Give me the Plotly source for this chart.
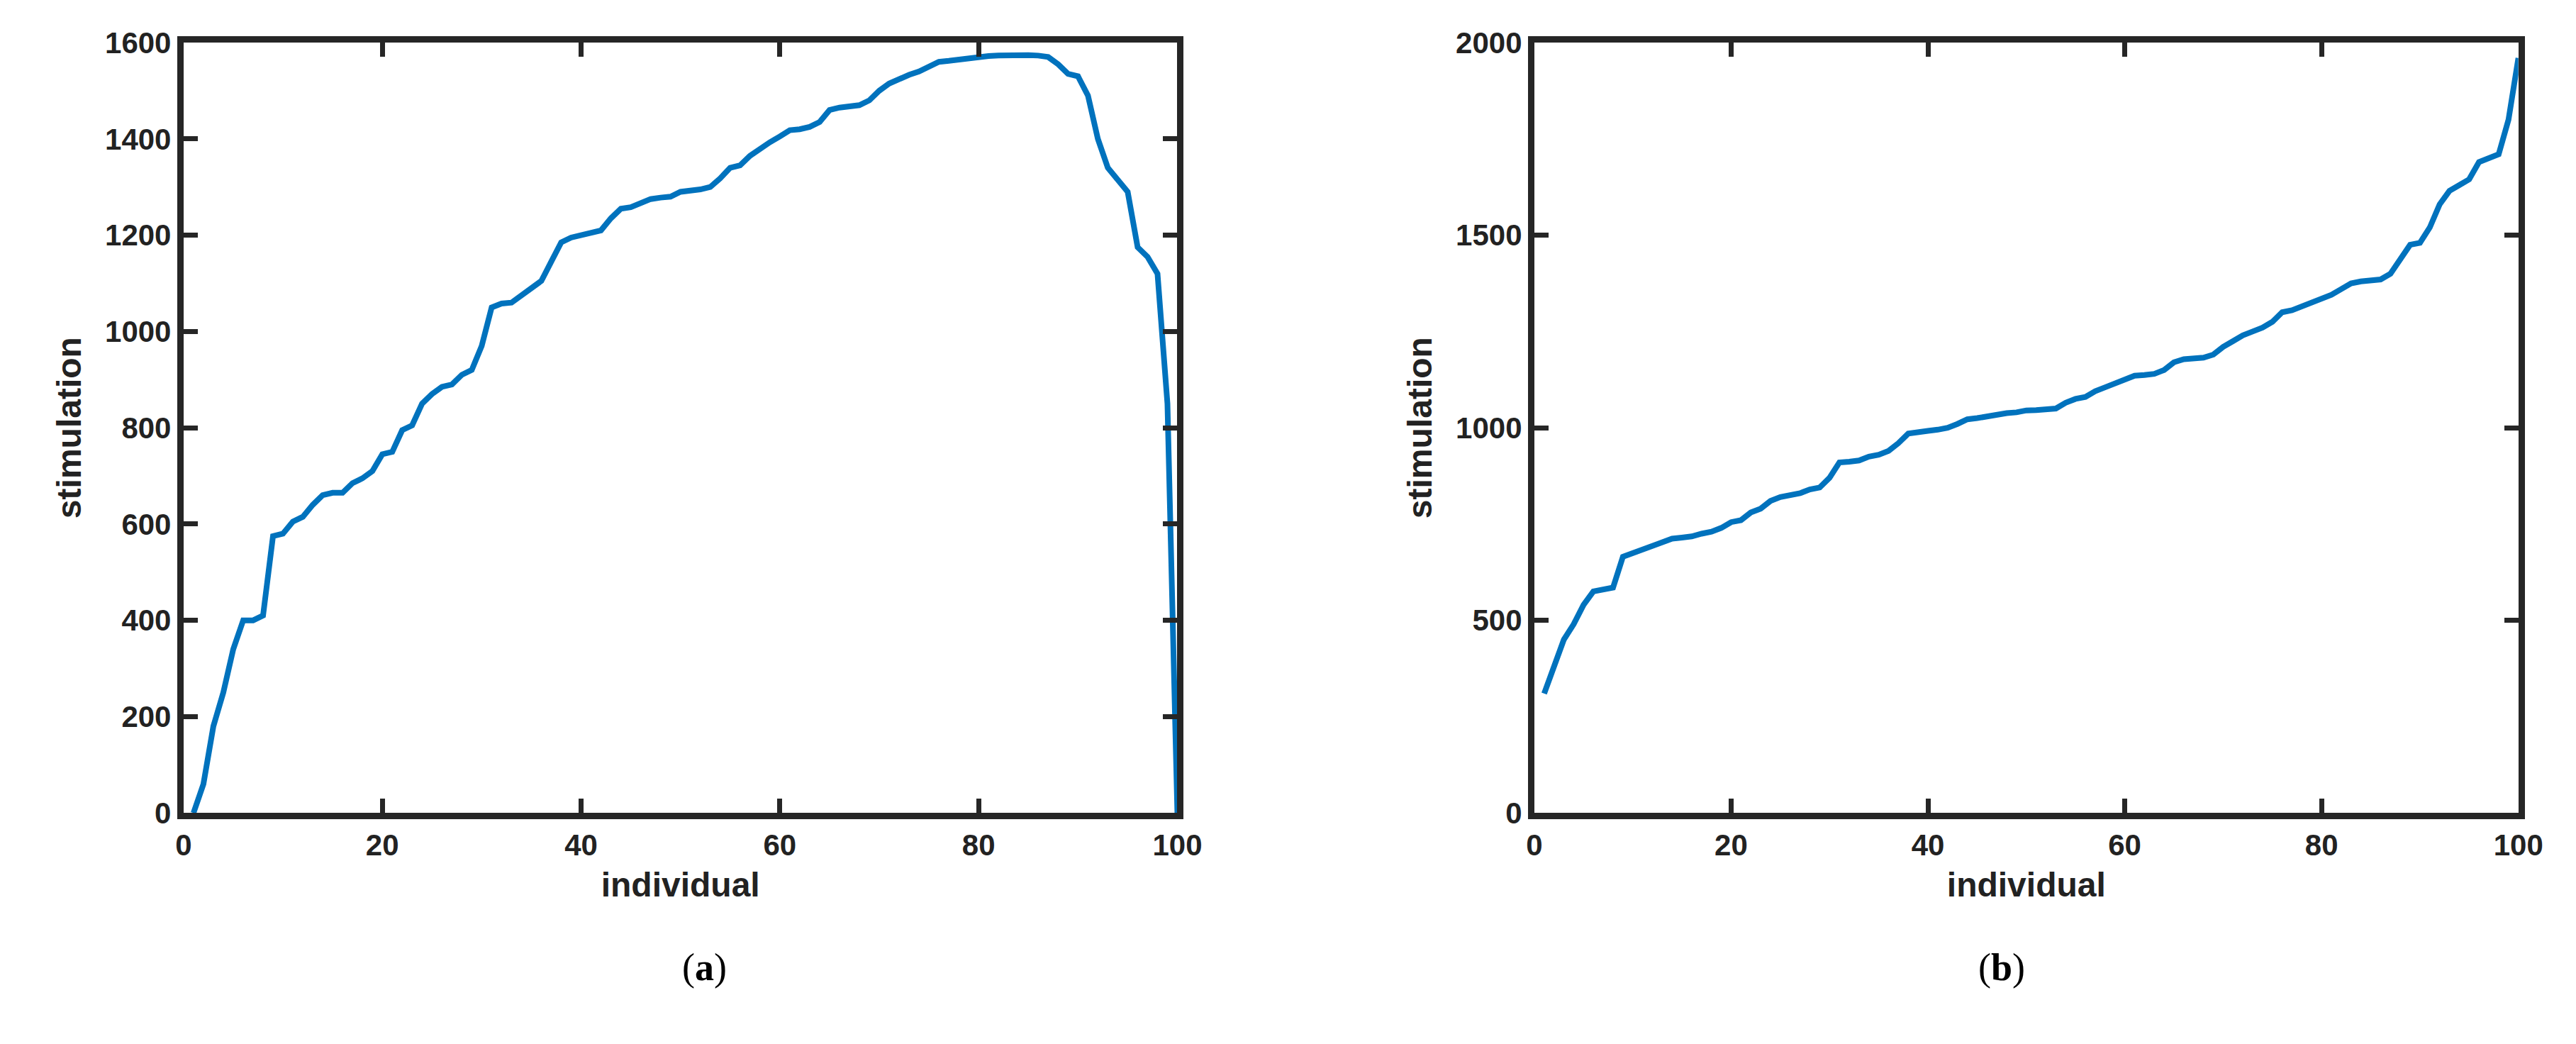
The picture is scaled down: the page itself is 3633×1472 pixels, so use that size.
import plotly.graph_objects as go

individual = list(range(1, 101))
stim_a = [0,60,180,250,340,400,400,410,575,580,605,615,640,660,665,665,685,695,710,745,
          750,795,805,850,870,885,890,910,920,970,1050,1058,1060,1075,1090,1105,1145,1185,1195,1200,
          1205,1210,1235,1255,1258,1265,1275,1278,1280,1290,1292,1295,1300,1318,1340,1345,1365,1380,1393,1405,
          1418,1420,1425,1435,1460,1465,1468,1470,1480,1500,1515,1525,1533,1540,1550,1560,1562,1565,1568,1570,
          1572,1573,1574,1574,1574,1573,1570,1555,1535,1530,1490,1400,1340,1315,1290,1175,1155,1120,850,0]
stim_b = [310,380,450,490,540,575,580,585,665,675,685,695,705,712,715,718,725,730,740,755,
          760,780,790,810,820,825,830,840,845,870,910,912,915,925,930,940,960,985,990,992,
          995,1000,1010,1022,1025,1030,1035,1038,1040,1045,1046,1048,1050,1065,1075,1080,1095,1105,1115,1125,
          1135,1137,1140,1150,1170,1178,1180,1182,1190,1210,1225,1240,1250,1260,1275,1300,1305,1315,1325,1335,
          1345,1360,1375,1380,1383,1385,1400,1440,1475,1480,1520,1580,1615,1630,1645,1690,1700,1710,1800,1960]
x_ticks = [0, 20, 40, 60, 80, 100]
ya_ticks = [0, 200, 400, 600, 800, 1000, 1200, 1400, 1600]
yb_ticks = [0, 500, 1000, 1500, 2000]
panel_labels = ["(<b>a</b>)", "(<b>b</b>)"]

W, H = 3633, 1472
fig = go.Figure()
fig.add_trace(go.Scatter(x=individual, y=stim_a, mode="lines", line=dict(color="#0072BD", width=8), xaxis="x", yaxis="y"))
fig.add_trace(go.Scatter(x=individual, y=stim_b, mode="lines", line=dict(color="#0072BD", width=8), xaxis="x2", yaxis="y2"))

font = dict(family="Liberation Sans, Arial", size=42, color="#222", weight="bold")
ax = dict(showgrid=False, zeroline=False, showline=True, linecolor="#262626", linewidth=9, mirror="ticks",
          ticks="inside", ticklen=20, tickwidth=7, tickcolor="#262626", tickfont=font)
tfont = dict(family="Liberation Sans, Arial", size=48, color="#222", weight="bold")
y0, y1 = 1 - 1152 / H, 1 - 30 / H
fig.update_layout(
    width=W, height=H, plot_bgcolor="white", paper_bgcolor="white", showlegend=False,
    margin=dict(l=0, r=0, t=0, b=0),
    xaxis=dict(ax, domain=[242 / W, 1662 / W], range=[0, 100], tickvals=x_ticks, anchor="y",
               title=dict(text="individual", font=tfont, standoff=20)),
    yaxis=dict(ax, domain=[y0, y1], range=[0, 1600], tickvals=ya_ticks, anchor="x",
               title=dict(text="stimulation", font=tfont, standoff=22)),
    xaxis2=dict(ax, domain=[2172 / W, 3578 / W], range=[0, 100], tickvals=x_ticks, anchor="y2",
                title=dict(text="individual", font=tfont, standoff=20)),
    yaxis2=dict(ax, domain=[y0, y1], range=[0, 2000], tickvals=yb_ticks, anchor="x2",
                title=dict(text="stimulation", font=tfont, standoff=22)),
)
for lab, xc in zip(panel_labels, [(242 + 1662) / 2 / W, (2172 + 3578) / 2 / W]):
    fig.add_annotation(text=lab, x=xc, y=1 - 1410 / H, xref="paper", yref="paper", showarrow=False,
                       font=dict(family="Liberation Serif, Times New Roman", size=54, color="black"))
fig.write_html("out.html")
